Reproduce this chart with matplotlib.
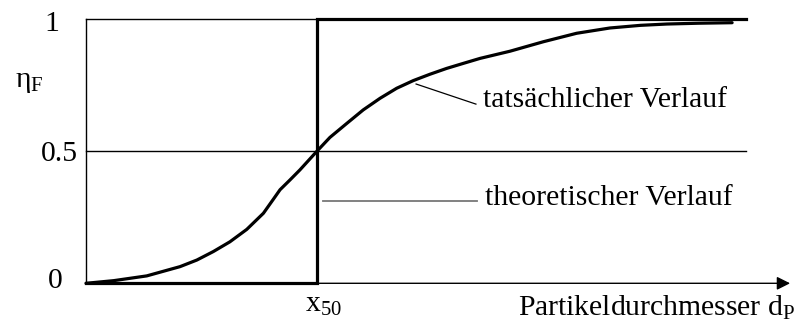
import matplotlib.pyplot as plt

plt.rcParams['font.family'] = ['Liberation Serif', 'DejaVu Serif']
plt.rcParams['mathtext.fontset'] = 'custom'
plt.rcParams['mathtext.rm'] = 'Liberation Serif'
plt.rcParams['mathtext.it'] = 'Liberation Serif:italic'

# theoretical (ideal) separation: step at x50
theo_d = [0, 1, 1, 2.857]
theo_eta = [0, 0, 1, 1]

real_d = [0, 0.12, 0.263, 0.407, 0.480, 0.551, 0.623, 0.696, 0.768, 0.811,
          0.840, 0.883, 0.926, 1.0, 1.056, 1.129, 1.200, 1.273, 1.345, 1.417,
          1.489, 1.561, 1.633, 1.706, 1.835, 1.980, 2.124, 2.268, 2.40,
          2.515, 2.65, 2.797]
real_eta = [0, 0.010, 0.028, 0.063, 0.088, 0.120, 0.157, 0.204, 0.265, 0.318,
            0.354, 0.391, 0.429, 0.5, 0.552, 0.605, 0.656, 0.700, 0.738, 0.767,
            0.791, 0.813, 0.832, 0.851, 0.878, 0.914, 0.946, 0.966, 0.976,
            0.981, 0.984, 0.986]

y_ticks = [0, 0.5, 1]
y_labels = ['0', '0.5', '1']

fs = 21.3
fig = plt.figure(figsize=(8.02, 3.32), dpi=100)
ax = fig.add_axes([0, 0, 1, 1])
ax.set_xlim(-86 / 231, 716 / 231)
ax.set_ylim(-0.1843, 1.0719)
ax.axis('off')

x_end = 2.857
# frame lines
ax.plot([0, 0], [0, 1], color='black', lw=1.0)
ax.plot([0, x_end], [1, 1], color='black', lw=1.0)
ax.plot([0, x_end], [0.5, 0.5], color='black', lw=1.0)
ax.annotate('', xy=(3.048, 0), xytext=(0, 0),
            arrowprops=dict(arrowstyle='-|>', lw=1.0, color='black',
                            mutation_scale=20, shrinkA=0, shrinkB=0))

ax.plot(theo_d, theo_eta, color='black', lw=2.3, solid_joinstyle='miter')
ax.plot(real_d, real_eta, color='black', lw=2.3, solid_capstyle='round',
        solid_joinstyle='round')

# y labels
ylab_x = [-0.134, -0.117, -0.147]
ylab_y = [-0.018, 0.462, 0.956]
for lab, xx, yy in zip(y_labels, ylab_x, ylab_y):
    ax.text(xx, yy, lab, fontsize=fs, ha='center', va='baseline')
ax.text(-0.307, 0.743, r'η$_\mathrm{F}$', fontsize=fs, ha='left', va='baseline')

ax.text(1.03, -0.109, r'x$_\mathrm{50}$', fontsize=fs, ha='center', va='baseline')
ax.text(3.069, -0.124, r'Partikeldurchmesser d$_\mathrm{P}$', fontsize=fs,
        ha='right', va='baseline')

# annotations
ax.plot([1.429, 1.688], [0.754, 0.678], color='black', lw=0.9)
ax.text(1.719, 0.693, 'tatsächlicher Verlauf', fontsize=fs, ha='left', va='center')
ax.plot([1.027, 1.691], [0.312, 0.312], color='#777777', lw=1.3)
ax.text(1.727, 0.323, 'theoretischer Verlauf', fontsize=fs, ha='left', va='center')

fig.savefig('out.png', dpi=100)
